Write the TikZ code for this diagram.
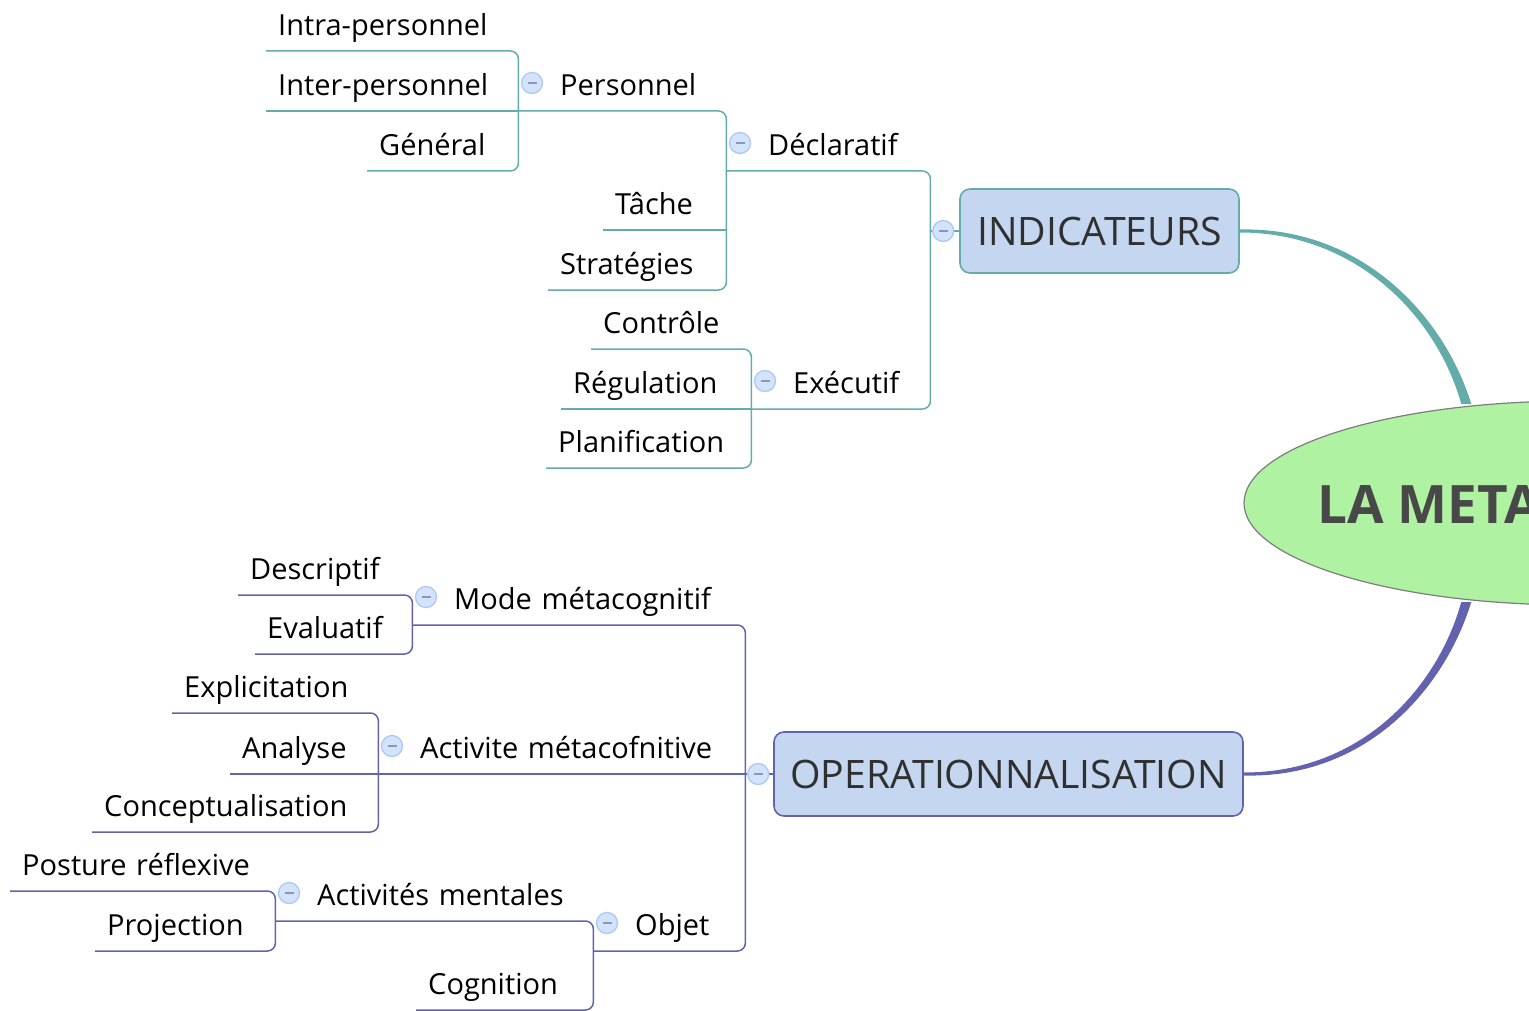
\documentclass[tikz,border=0pt]{standalone}
\usepackage{fontspec}
\setmainfont{Open Sans}
\usetikzlibrary{shapes.geometric}
\definecolor{tealline}{RGB}{99,172,170}
\definecolor{purpline}{RGB}{98,98,174}
\definecolor{boxfill}{RGB}{196,214,240}
\definecolor{knobfill}{RGB}{212,227,252}
\definecolor{knobline}{RGB}{172,200,244}
\definecolor{knobmark}{RGB}{140,150,185}
\definecolor{hubfill}{RGB}{174,242,162}
\definecolor{hubline}{RGB}{125,125,125}
\definecolor{hubtext}{RGB}{72,72,72}
\definecolor{boxtext}{RGB}{48,48,48}

\begin{document}
\begin{tikzpicture}[x=1pt,y=-1pt,
  topic/.style={anchor=south west, inner xsep=0pt, inner ysep=0pt,
    text height=22pt, text depth=15pt, align=left,
    font=\fontsize{29}{34}\selectfont, text=black},
  leaf/.style={topic, text width=#1, execute at begin node=\hspace*{12pt}},
  branch/.style={topic, text width=#1, execute at begin node=\hspace*{42pt}},
  mainbox/.style={rounded corners=10pt, fill=boxfill, line width=1.6pt,
    inner sep=0pt, font=\fontsize{39.2}{45}\selectfont, text=boxtext},
  knob/.style={circle, minimum size=21pt, inner sep=0pt, fill=knobfill,
    draw=knobline, line width=1.3pt,
    path picture={\draw[knobmark, line width=1.3pt]
      ([xshift=-4.5pt]path picture bounding box.center) --
      ([xshift=4.5pt]path picture bounding box.center);}},
  tl/.style={draw=tealline, line width=1.5pt, rounded corners=8pt},
  pl/.style={draw=purpline, line width=1.5pt, rounded corners=8pt},
]
\useasboundingbox (0,0) rectangle (1529,1011);
\clip (0,0) rectangle (1529,1011);

% ---------- central topic ----------
\node[ellipse, draw=hubline, fill=hubfill, line width=1.2pt, minimum width=660pt,
      minimum height=204pt, inner sep=0pt] (hub) at (1574,503) {};
\node[anchor=base west, inner sep=0pt, font=\fontsize{53}{60}\selectfont\bfseries,
      text=hubtext] (title) at (1317,523) {LA METACOGNITION};

% ---------- main topics ----------
\node[mainbox, draw=tealline, minimum width=279pt, minimum height=84pt]
  (indicateurs) at (1099.5,231) {INDICATEURS};
\node[mainbox, draw=purpline, minimum width=469pt, minimum height=84pt]
  (operation) at (1008.5,774) {OPERATIONNALISATION};

% tapered links from the hub (thin at the topic, wide at the hub)
\fill[tealline] ([yshift=-1.5pt]indicateurs.east)
  .. controls +(118,0) and +(-24,-86) .. ([xshift=-5pt,yshift=2pt]hub.138)
  -- ([xshift=5pt,yshift=2pt]hub.138)
  .. controls +(-27,-88) and +(122,-3) .. ([yshift=1.5pt]indicateurs.east) -- cycle;
\fill[purpline] ([yshift=1.5pt]operation.east)
  .. controls +(118,0) and +(-24,86) .. ([xshift=-5pt,yshift=-2pt]hub.222)
  -- ([xshift=5pt,yshift=-2pt]hub.222)
  .. controls +(-27,88) and +(122,3) .. ([yshift=-1.5pt]operation.east) -- cycle;

% ---------- INDICATEURS branch ----------
\node[leaf=252pt] (intra) at (266,51) {Intra-personnel};
\node[leaf=252pt] (inter) at (266,111) {Inter-personnel};
\node[leaf=151pt] (general) at (367,171) {Général};
\node[branch=208pt] (personnel) at (518,111) {Personnel};
\node[leaf=123pt] (tache) at (603,230) {Tâche};
\node[leaf=178pt] (strategies) at (548,290) {Stratégies};
\node[branch=204pt] (declaratif) at (726,171) {Déclaratif};
\node[leaf=160pt] (controle) at (591,349) {Contrôle};
\node[leaf=190pt] (regulation) at (561,409) {Régulation};
\node[leaf=205pt] (planification) at (546,468) {Planification};
\node[branch=179pt] (executif) at (751,409) {Exécutif};

\draw[tl] (intra.south west) -- (intra.south east) -- (general.south east) -- (general.south west);
\draw[tl] (inter.south west) -- (inter.south east);
\draw[tl] (personnel.south west) -- (personnel.south east) -- (strategies.south east) -- (strategies.south west);
\draw[tl] (tache.south west) -- (tache.south east);
\draw[tl] (controle.south west) -- (controle.south east) -- (planification.south east) -- (planification.south west);
\draw[tl] (regulation.south west) -- (regulation.south east);
\draw[tl] (declaratif.south west) -- (declaratif.south east) -- (executif.south east) -- (executif.south west);
\draw[tl] (indicateurs.west) -- (indicateurs.west -| declaratif.south east);

\node[knob] (k-personnel) at ([xshift=14pt,yshift=28pt]personnel.south west) {};
\node[knob] (k-declaratif) at ([xshift=14pt,yshift=28pt]declaratif.south west) {};
\node[knob] (k-executif) at ([xshift=14pt,yshift=28pt]executif.south west) {};
\node[knob] (k-indicateurs) at ([xshift=-16pt]indicateurs.west) {};

% ---------- OPERATIONNALISATION branch ----------
\node[leaf=174pt] (descriptif) at (238,595) {Descriptif};
\node[leaf=157pt] (evaluatif) at (255,654) {Evaluatif};
\node[branch=333pt] (mode) at (412,625) {Mode métacognitif};
\node[leaf=206pt] (explicitation) at (172,713) {Explicitation};
\node[leaf=148pt] (analyse) at (230,774) {Analyse};
\node[leaf=286pt] (conceptualisation) at (92,832) {Conceptualisation};
\node[branch=367pt] (activite) at (378,774) {Activite métacofnitive};
\node[leaf=265pt] (posture) at (10,891) {Posture réflexive};
\node[leaf=180pt] (projection) at (95,951) {Projection};
\node[branch=318pt] (mentales) at (275,921) {Activités mentales};
\node[leaf=177pt] (cognition) at (416,1010) {Cognition};
\node[branch=152pt] (objet) at (593,951) {Objet};

\draw[pl] (descriptif.south west) -- (descriptif.south east) -- (evaluatif.south east) -- (evaluatif.south west);
\draw[pl] (explicitation.south west) -- (explicitation.south east) -- (conceptualisation.south east) -- (conceptualisation.south west);
\draw[pl] (analyse.south west) -- (analyse.south east);
\draw[pl] (posture.south west) -- (posture.south east) -- (projection.south east) -- (projection.south west);
\draw[pl] (mentales.south west) -- (mentales.south east) -- (cognition.south east) -- (cognition.south west);
\draw[pl] (mode.south west) -- (mode.south east) -- (objet.south east) -- (objet.south west);
\draw[pl] (activite.south west) -- (activite.south east);
\draw[pl] (operation.west) -- (operation.west -| mode.south east);

\node[knob] (k-mode) at ([xshift=14pt,yshift=28pt]mode.south west) {};
\node[knob] (k-activite) at ([xshift=14pt,yshift=28pt]activite.south west) {};
\node[knob] (k-mentales) at ([xshift=14pt,yshift=28pt]mentales.south west) {};
\node[knob] (k-objet) at ([xshift=14pt,yshift=28pt]objet.south west) {};
\node[knob] (k-operation) at ([xshift=-15pt]operation.west) {};
\end{tikzpicture}
\end{document}
